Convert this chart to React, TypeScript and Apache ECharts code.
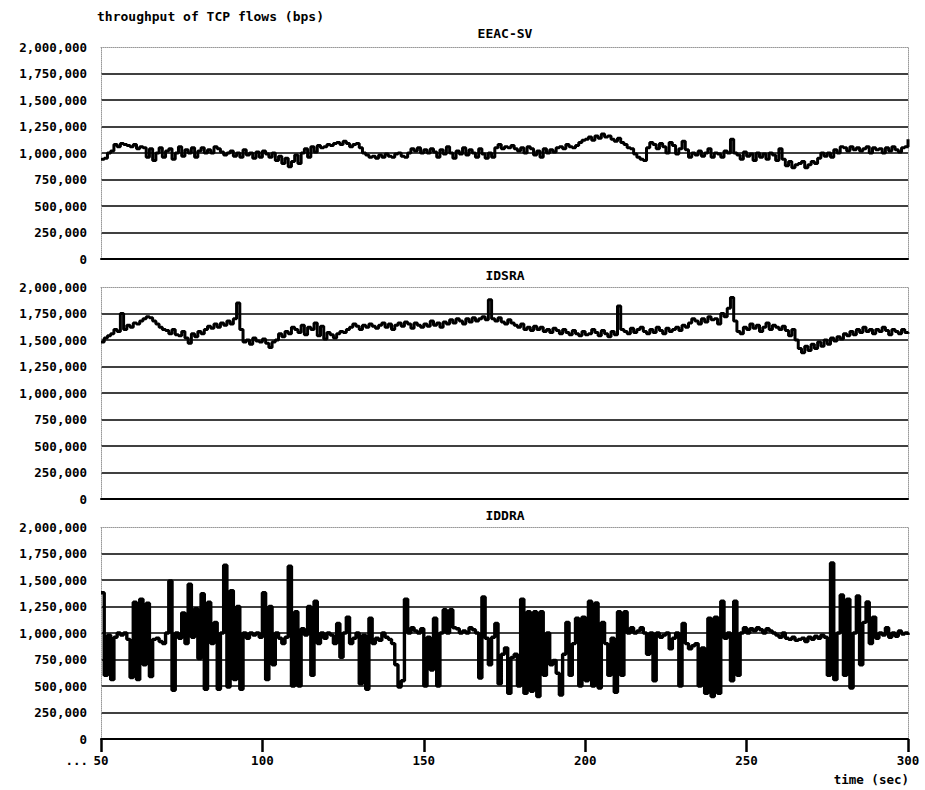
import React, { useEffect, useRef } from 'react';
import * as echarts from 'echarts';

// time axis (sec): samples every second from 50 to 300
const T_START = 50;
const T_STEP = 1;
const X_TICKS = [50, 100, 150, 200, 250, 300];

// throughput in kbps (x1000 -> bps)
const eeacSv = [
  940, 950, 1000, 1020, 1080, 1060, 1090, 1080, 1070, 1060,
  1080, 1040, 1060, 1050, 960, 1040, 930, 1000, 1050, 960,
  1020, 1040, 940, 1000, 1060, 970, 1030, 1000, 1050, 960,
  1020, 1050, 1000, 1030, 1000, 1060, 1040, 1010, 980, 1000,
  1020, 970, 1000, 960, 1030, 980, 1000, 950, 1010, 960,
  1020, 990, 960, 1000, 930, 970, 900, 950, 870, 920,
  980, 900, 1000, 1040, 960, 1060, 1010, 1070, 1050, 1060,
  1080, 1070, 1090, 1100, 1080, 1110, 1090, 1060, 1080, 1090,
  1050, 1000, 980, 960, 970, 950, 980, 960, 990, 970,
  960, 990, 1000, 970, 960, 1000, 1040, 1020, 1050, 1000,
  1030, 1000, 1040, 1010, 960, 1030, 990, 1060, 1000, 950,
  1020, 990, 1050, 980, 1030, 1000, 960, 1040, 990, 950,
  1000, 960, 1050, 1080, 1040, 1060, 1050, 1070, 1040, 1020,
  1050, 1000, 1060, 1040, 980, 1020, 960, 1040, 1000, 1030,
  1010, 1050, 1060, 1040, 1080, 1060, 1050, 1070, 1100, 1120,
  1130, 1150, 1120, 1160, 1140, 1180, 1150, 1160, 1130, 1110,
  1140, 1100, 1080, 1050, 1040, 990, 960, 940, 930, 1050,
  1100, 1080, 1040, 1090, 1060, 1000, 1100, 1070, 990, 1040,
  1110, 1030, 960, 1000, 980, 1020, 970, 1000, 1040, 960,
  1000, 990, 960, 1020, 1000, 1130, 1000, 980, 940, 1010,
  970, 990, 930, 1000, 960, 990, 940, 1000, 980, 930,
  1040, 940, 880, 920, 860, 890, 900, 920, 860, 890,
  920, 900, 950, 1000, 970, 1000, 960, 1030, 1000, 1060,
  1050, 1020, 1060, 1030, 1050, 1020, 1040, 1060, 1000, 1050,
  1030, 1040, 1000, 1050, 1020, 1060, 1030, 1010, 1050, 1060,
  1130,
];

const idsra = [
  1480, 1520, 1540, 1560, 1600, 1580, 1750, 1600, 1640, 1620,
  1660, 1650, 1680, 1700, 1720, 1710, 1680, 1650, 1620, 1600,
  1590, 1560, 1600, 1550, 1540, 1580, 1520, 1470, 1560, 1530,
  1580, 1560, 1600, 1630, 1610, 1650, 1620, 1660, 1640, 1680,
  1650, 1700, 1850, 1600, 1480, 1500, 1460, 1520, 1490, 1480,
  1510, 1470, 1430, 1480, 1500, 1560, 1530, 1580, 1560, 1620,
  1600, 1570, 1640, 1550, 1620, 1600, 1660, 1540, 1630, 1510,
  1570, 1550, 1520, 1560, 1580, 1570, 1600, 1620, 1650, 1630,
  1600, 1640, 1620, 1650, 1630, 1610, 1640, 1660, 1620, 1650,
  1600, 1640, 1660, 1630, 1670, 1650, 1610, 1660, 1640, 1620,
  1650, 1630, 1680, 1640, 1660, 1620, 1670, 1650, 1690, 1660,
  1700, 1680, 1650, 1700, 1670, 1710, 1680, 1700, 1720, 1690,
  1880, 1700, 1680, 1710, 1670, 1650, 1690, 1660, 1640, 1620,
  1650, 1600, 1620, 1590, 1630, 1600, 1620, 1580, 1600, 1570,
  1610, 1590, 1560, 1600, 1570, 1550, 1590, 1560, 1540, 1580,
  1550, 1560, 1600, 1570, 1540, 1590, 1560, 1530, 1580, 1550,
  1820, 1600, 1580, 1560, 1610, 1570, 1600, 1620, 1580, 1560,
  1600, 1570, 1620, 1590, 1560, 1610, 1580, 1600, 1620, 1590,
  1640, 1620, 1660, 1700, 1680, 1650, 1700, 1670, 1720, 1690,
  1700, 1650, 1750, 1720, 1800, 1900, 1680, 1580, 1560, 1620,
  1600, 1650, 1610, 1640, 1580, 1620, 1660, 1600, 1640, 1620,
  1600, 1630, 1590, 1540, 1600, 1500, 1420, 1380, 1440, 1400,
  1460, 1420, 1480, 1440, 1500, 1460, 1520, 1490, 1530, 1510,
  1560, 1540, 1580, 1550, 1600, 1570, 1620, 1580, 1600, 1560,
  1600, 1580, 1620, 1590, 1550, 1600, 1580, 1560, 1600, 1570,
  1560,
];

const iddra = [
  1380, 600, 980, 560, 960, 1000, 980, 1000, 940, 580,
  1290, 560, 1320, 700, 1280, 590, 940, 950, 920, 900,
  1000, 1490, 460, 1000, 950, 1190, 900, 1460, 960, 1230,
  760, 1370, 470, 1290, 900, 1100, 470, 1000, 1640, 490,
  1400, 560, 1250, 470, 1000, 950, 1000, 980, 1000, 960,
  1380, 560, 1250, 700, 1000, 950, 900, 960, 1630, 500,
  1200, 500, 1040, 980, 1250, 600, 1300, 900, 1000, 950,
  1000, 980, 900, 1090, 770, 1000, 1150, 900, 950, 1000,
  520, 980, 470, 1140, 900, 950, 930, 1000, 960, 940,
  900, 700, 490, 550, 1320, 1000, 1050, 1020, 1000, 1040,
  500, 960, 650, 1140, 500, 1000, 1220, 1000, 1220, 1050,
  1040, 1000, 1020, 1000, 1050, 1030, 1000, 575, 1340, 950,
  700, 960, 1090, 520, 800, 860, 430, 770, 800, 500,
  1320, 430, 1200, 450, 1200, 400, 1200, 600, 1000, 700,
  740, 620, 415, 800, 1100, 600, 900, 1140, 500, 1150,
  550, 1300, 500, 1283, 480, 1100, 900, 600, 950, 440,
  1200, 600, 1200, 1000, 1050, 1000, 1020, 1050, 1000, 800,
  1000, 550, 1000, 960, 980, 1000, 850, 950, 1000, 500,
  1090, 900, 850, 880, 900, 500, 860, 430, 1140, 400,
  1150, 430, 1300, 950, 1000, 550, 1300, 600, 1000, 1050,
  1000, 1040, 1020, 1050, 1030, 1000, 1040, 1020, 1000, 980,
  960, 1000, 950, 940, 960, 930, 940, 950, 920, 960,
  940, 970, 950, 980, 960, 600, 1660, 560, 1000, 1358,
  600, 1320, 481, 1000, 1350, 700, 1100, 1292, 900, 1150,
  950, 1000, 980, 1050, 960, 1000, 970, 1020, 990, 1000,
  980,
];

const panelTitles = ['EEAC-SV', 'IDSRA', 'IDDRA'];
const panelSeries = [eeacSv, idsra, iddra];
const Y_MIN = 0;
const Y_MAX = 2000000;
const Y_INTERVAL = 250000;

const mainTitle = 'throughput of TCP flows (bps)';
const xAxisName = 'time (sec)';

const FONT = 'DejaVu Sans Mono';

export default function App() {
  const ref = useRef<HTMLDivElement>(null);

  useEffect(() => {
    const chart = echarts.init(ref.current!, null, { renderer: 'svg' });
    const tops = [47, 287, 527];
    const gridLeft = 101;
    const gridWidth = 807;
    const gridHeight = 212;

    const textBase = { fontFamily: FONT, fontWeight: 'bold' as const, fontSize: 12.5, color: '#000' };

    const grids = tops.map((top) => ({ left: gridLeft, top, width: gridWidth, height: gridHeight }));

    const splitColors = [] as string[];
    for (let v = Y_MIN; v <= Y_MAX; v += Y_INTERVAL) splitColors.push(v === Y_MAX ? 'transparent' : '#000');

    const xAxes: any[] = [];
    const yAxes: any[] = [];
    tops.forEach((_, i) => {
      const last = i === tops.length - 1;
      xAxes.push({
        type: 'value',
        gridIndex: i,
        min: X_TICKS[0],
        max: X_TICKS[X_TICKS.length - 1],
        interval: 50,
        position: 'bottom',
        axisLine: { show: true, onZero: false, lineStyle: { color: '#000', width: 2 } },
        axisTick: last
          ? { show: true, inside: false, length: 13, lineStyle: { color: '#000', width: 2.5 } }
          : { show: false },
        axisLabel: { show: last, margin: 15, ...textBase },
        splitLine: { show: false },
      });
      yAxes.push({
        type: 'value',
        gridIndex: i,
        min: Y_MIN,
        max: Y_MAX,
        interval: Y_INTERVAL,
        axisLine: { show: true, lineStyle: { color: '#999', type: 'dotted', width: 1 } },
        axisTick: { show: false },
        axisLabel: {
          margin: 14,
          ...textBase,
          formatter: (v: number) => v.toLocaleString('en-US'),
        },
        splitLine: { show: true, lineStyle: { color: splitColors, width: 1.5 } },
      });
    });
    tops.forEach((_, i) => {
      xAxes.push({
        type: 'value',
        gridIndex: i,
        min: X_TICKS[0],
        max: X_TICKS[X_TICKS.length - 1],
        position: 'top',
        axisLine: { show: true, onZero: false, lineStyle: { color: '#999', type: 'dotted', width: 1 } },
        axisTick: { show: false },
        axisLabel: { show: false },
        splitLine: { show: false },
      });
      yAxes.push({
        type: 'value',
        gridIndex: i,
        min: Y_MIN,
        max: Y_MAX,
        position: 'right',
        axisLine: { show: true, onZero: false, lineStyle: { color: '#999', type: 'dotted', width: 1 } },
        axisTick: { show: false },
        axisLabel: { show: false },
        splitLine: { show: false },
      });
    });

    const series = panelSeries.map((vals, i) => ({
      type: 'line',
      name: panelTitles[i],
      xAxisIndex: i,
      yAxisIndex: i,
      step: 'end',
      showSymbol: false,
      symbol: 'none',
      lineStyle: { color: '#000', width: i === 2 ? 3.4 : 3 },
      data: vals.map((v, k) => [T_START + k * T_STEP, v * 1000]),
    }));

    const titleCenters = [33, 275, 515];
    const graphic: any[] = [
      { type: 'text', left: 97, top: 10, style: { text: mainTitle, font: `bold 13px "${FONT}"`, fill: '#000' } },
      ...panelTitles.map((t, i) => ({
        type: 'text',
        x: 505,
        y: titleCenters[i],
        style: { text: t, font: `bold 13px "${FONT}"`, fill: '#000', align: 'center', verticalAlign: 'middle' },
      })),
      { type: 'text', x: 909, y: 779, style: { text: xAxisName, font: `bold 12.5px "${FONT}"`, fill: '#000', align: 'right', verticalAlign: 'middle' } },
      { type: 'text', x: 88, y: 760, style: { text: '...', font: `bold 12.5px "${FONT}"`, fill: '#000', align: 'right', verticalAlign: 'middle' } },
    ];

    chart.setOption({
      animation: false,
      backgroundColor: '#fff',
      grid: grids,
      xAxis: xAxes,
      yAxis: yAxes,
      series,
      graphic,
    });

    return () => chart.dispose();
  }, []);

  return (
    <div
      ref={ref}
      style={{ position: 'fixed', left: 0, top: 0, width: 925, height: 790, background: '#fff' }}
    />
  );
}
